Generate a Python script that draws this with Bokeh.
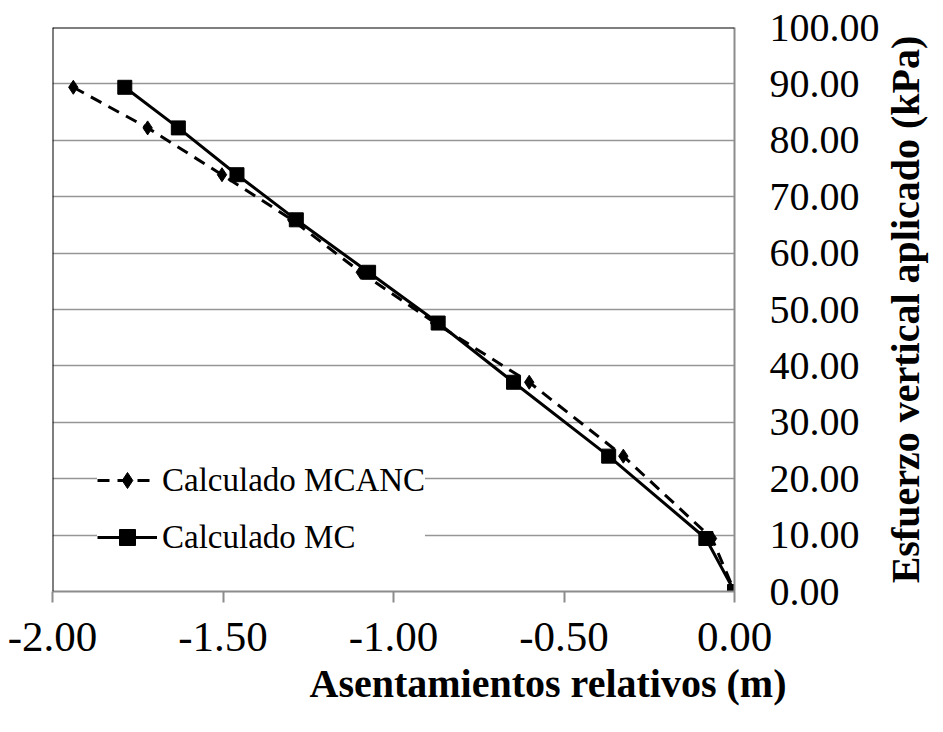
import math
from bokeh.plotting import figure
from bokeh.layouts import row
from bokeh.models import (Range1d, FixedTicker, NumeralTickFormatter,
                          Legend, LegendItem, Span, Title)
from bokeh.embed import file_html
from bokeh.resources import INLINE

# Data
stress_kpa = [89.4, 82.2, 73.9, 65.9, 56.6, 47.6, 37.1, 24.0, 9.4, 0.0]
settle_mc = [-1.788, -1.631, -1.459, -1.285, -1.073, -0.869, -0.648, -0.369, -0.084, 0.0]
settle_mcanc = [-1.939, -1.721, -1.503, -1.297, -1.096, -0.878, -0.602, -0.326, -0.066, 0.0]

x_ticks = [-2.0, -1.5, -1.0, -0.5, 0.0]
y_ticks = [0, 10, 20, 30, 40, 50, 60, 70, 80, 90, 100]

label_mcanc = "Calculado MCANC"
label_mc = "Calculado MC"
x_title = "Asentamientos relativos (m)"
y_title = "Esfuerzo vertical aplicado (kPa)"

FONT = "Liberation Serif"

p = figure(width=882, height=716, output_backend="svg", toolbar_location=None,
           x_range=Range1d(-2.0, 0.0), y_range=Range1d(0, 100),
           x_axis_location="below", y_axis_location="right",
           min_border_left=52, min_border_right=144,
           min_border_top=27, min_border_bottom=125)
p.outline_line_color = None
p.background_fill_color = "white"
p.border_fill_color = "white"

# X axis
xa = p.xaxis[0]
xa.ticker = FixedTicker(ticks=x_ticks)
xa.formatter = NumeralTickFormatter(format="0.00")
xa.axis_line_color = "#8c8c8c"
xa.axis_line_width = 2
xa.major_tick_line_color = "#8c8c8c"
xa.major_tick_line_width = 2
xa.major_tick_in = 0
xa.major_tick_out = 11
xa.minor_tick_line_color = None
xa.major_label_text_font = FONT
xa.major_label_text_font_size = "43px"
xa.major_label_text_color = "black"
xa.major_label_standoff = 20

# Y axis (right)
ya = p.yaxis[0]
ya.ticker = FixedTicker(ticks=y_ticks)
ya.formatter = NumeralTickFormatter(format="0.00")
ya.axis_line_color = "#8c8c8c"
ya.axis_line_width = 2
ya.major_tick_line_color = None
ya.major_tick_in = 0
ya.major_tick_out = 0
ya.minor_tick_line_color = None
ya.major_label_text_font = FONT
ya.major_label_text_font_size = "40px"
ya.major_label_text_color = "black"
ya.major_label_standoff = 35

# Grid
p.xgrid.grid_line_color = None
p.ygrid.ticker = FixedTicker(ticks=y_ticks)
p.ygrid.grid_line_color = "#969696"
p.ygrid.grid_line_width = 1.5

# Black top and left border of plot area
p.add_layout(Span(location=100, dimension="width", line_color="black", line_width=2))
p.add_layout(Span(location=-2.0, dimension="height", line_color="black", line_width=2))

# Series
l1 = p.line(settle_mcanc, stress_kpa, line_color="black", line_width=3, line_dash="12 8")
s1 = p.scatter(settle_mcanc, stress_kpa, marker="diamond", size=14,
               fill_color="black", line_color="black")
l2 = p.line(settle_mc, stress_kpa, line_color="black", line_width=3)
s2 = p.scatter(settle_mc, stress_kpa, marker="square", size=14,
               fill_color="black", line_color="black")

legend = Legend(items=[LegendItem(label=label_mcanc, renderers=[l1, s1]),
                       LegendItem(label=label_mc, renderers=[l2, s2])],
                location=(45, 34), orientation="vertical")
legend.background_fill_color = "white"
legend.background_fill_alpha = 1.0
legend.border_line_color = None
legend.label_text_font = FONT
legend.label_text_font_size = "33px"
legend.label_text_color = "black"
legend.glyph_width = 60
legend.glyph_height = 40
legend.spacing = 17
legend.padding = 0
legend.margin = 0
legend.label_standoff = 5
p.add_layout(legend, "center")

# X axis title (offset to the right as in the reference)
t = Title(text=x_title, align="left", offset=257, standoff=10,
          text_font=FONT, text_font_size="40px", text_font_style="bold",
          text_color="black")
p.add_layout(t, "below")

# Y axis title: narrow companion panel so the text reads bottom-to-top
p2 = figure(width=45, height=716, output_backend="svg", toolbar_location=None,
            x_axis_location=None, y_axis_location=None,
            min_border_left=0, min_border_right=0,
            min_border_top=27, min_border_bottom=125)
p2.outline_line_color = None
p2.grid.visible = False
p2.background_fill_color = "white"
p2.border_fill_color = "white"
p2.add_layout(Title(text=y_title, align="center", standoff=0,
                    text_font=FONT, text_font_size="40px", text_font_style="bold",
                    text_color="black"), "left")

layout = row(p, p2, spacing=0)

open("out.html", "w").write(file_html(layout, INLINE))
